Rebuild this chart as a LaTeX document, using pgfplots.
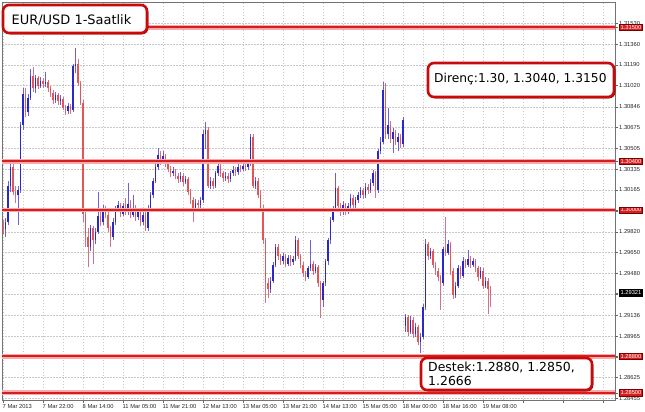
\documentclass[border=0pt]{standalone}
\usepackage{pgfplots}
\pgfplotsset{compat=1.18}
\usepackage{pgfplotstable}
\usepackage{fontspec}
\setmainfont{Liberation Sans}
\newfontfamily\boxfont{DejaVu Sans}

\definecolor{upbody}{RGB}{40,40,205}
\definecolor{upwick}{RGB}{115,95,210}
\definecolor{dnbody}{RGB}{228,85,85}
\definecolor{dnwick}{RGB}{210,115,140}
\definecolor{lvlred}{RGB}{215,30,30}
\definecolor{lvlhalo}{RGB}{250,170,170}
\definecolor{boxred}{RGB}{200,10,10}
\definecolor{boxshadow}{RGB}{120,0,0}
\definecolor{gridgray}{RGB}{200,200,200}

\newcommand{\tickfont}{\fontsize{5.8}{6}\selectfont}
\newcommand{\rl}[1]{{\setlength{\fboxsep}{0.9bp}\setlength{\fboxrule}{0.4bp}\fcolorbox{boxshadow}{lvlred}{\textcolor{white}{#1}}}}
\newcommand{\bl}[1]{{\setlength{\fboxsep}{0.9bp}\setlength{\fboxrule}{0.4bp}\fcolorbox{black}{black}{\textcolor{white}{#1}}}}

% hourly candles, bar index = hours from 7 Mar 06:00 (weekend skipped)
\pgfplotstableread{
x o h l c
1 1.2984 1.2993 1.2978 1.2990
2 1.2990 1.3024 1.2988 1.3020
3 1.3020 1.3042 1.3015 1.3035
6 1.3012 1.3020 1.2988 1.3016
7 1.3016 1.3072 1.3014 1.3070
8 1.3070 1.3100 1.3066 1.3095
10 1.3080 1.3095 1.3077 1.3092
11 1.3092 1.3116 1.3090 1.3110
13 1.3100 1.3111 1.3096 1.3108
15 1.3102 1.3109 1.3100 1.3106
17 1.3103 1.3113 1.3101 1.3105
21 1.3090 1.3097 1.3088 1.3094
23 1.3089 1.3094 1.3086 1.3091
26 1.3081 1.3088 1.3079 1.3085
28 1.3082 1.3120 1.3080 1.3118
29 1.3118 1.3133 1.3112 1.3120
35 1.2970 1.2988 1.2966 1.2985
37 1.2975 1.2985 1.2972 1.2982
38 1.2982 1.3015 1.2980 1.2995
40 1.2990 1.3004 1.2988 1.3000
44 1.2978 1.2993 1.2975 1.2990
45 1.2990 1.3003 1.2988 1.3000
46 1.3000 1.3007 1.2998 1.3004
48 1.2997 1.3006 1.2995 1.3003
50 1.2998 1.3022 1.2996 1.3005
52 1.2996 1.3012 1.2994 1.3002
54 1.2994 1.3002 1.2992 1.2999
56 1.2990 1.2999 1.2988 1.2996
58 1.2985 1.3004 1.2983 1.3002
59 1.3002 1.3015 1.3000 1.3012
60 1.3012 1.3026 1.3010 1.3024
61 1.3024 1.3038 1.3022 1.3035
62 1.3035 1.3051 1.3033 1.3045
64 1.3040 1.3048 1.3038 1.3044
68 1.3030 1.3035 1.3028 1.3032
71 1.3025 1.3031 1.3023 1.3028
73 1.3023 1.3028 1.3021 1.3025
77 1.3002 1.3009 1.3000 1.3006
79 1.3004 1.3011 1.3002 1.3008
80 1.3008 1.3066 1.3006 1.3062
81 1.3062 1.3072 1.3050 1.3066
83 1.3020 1.3027 1.3017 1.3024
85 1.3020 1.3032 1.3018 1.3030
86 1.3030 1.3040 1.3028 1.3036
89 1.3026 1.3031 1.3024 1.3028
91 1.3025 1.3032 1.3023 1.3030
92 1.3030 1.3036 1.3028 1.3033
94 1.3031 1.3038 1.3029 1.3035
96 1.3034 1.3039 1.3032 1.3036
98 1.3035 1.3041 1.3033 1.3038
99 1.3038 1.3062 1.3036 1.3060
101 1.3020 1.3027 1.3017 1.3024
107 1.2935 1.2945 1.2932 1.2942
108 1.2942 1.2957 1.2940 1.2955
109 1.2955 1.2972 1.2953 1.2970
112 1.2958 1.2965 1.2956 1.2962
114 1.2956 1.2963 1.2954 1.2961
116 1.2957 1.2962 1.2955 1.2960
117 1.2960 1.2979 1.2958 1.2975
122 1.2945 1.2954 1.2943 1.2952
123 1.2952 1.2975 1.2950 1.2956
125 1.2950 1.2956 1.2948 1.2953
128 1.2926 1.2942 1.2920 1.2940
129 1.2940 1.2960 1.2938 1.2958
130 1.2958 1.2977 1.2955 1.2975
131 1.2975 1.2994 1.2972 1.2992
132 1.2992 1.3003 1.2990 1.3000
133 1.3000 1.3030 1.2998 1.3018
136 1.2998 1.3007 1.2996 1.3004
138 1.2999 1.3006 1.2997 1.3003
139 1.3003 1.3013 1.3001 1.3010
141 1.3004 1.3011 1.3002 1.3008
142 1.3008 1.3015 1.3006 1.3012
143 1.3012 1.3019 1.3010 1.3016
145 1.3012 1.3022 1.3010 1.3019
147 1.3016 1.3025 1.3014 1.3022
148 1.3022 1.3033 1.3020 1.3030
150 1.3016 1.3050 1.3014 1.3048
151 1.3048 1.3060 1.3046 1.3056
152 1.3056 1.3105 1.3054 1.3098
154 1.3062 1.3084 1.3058 1.3070
156 1.3058 1.3067 1.3047 1.3064
158 1.3056 1.3063 1.3048 1.3060
160 1.3054 1.3076 1.3052 1.3074
161 1.2905 1.2915 1.2900 1.2912
163 1.2900 1.2913 1.2898 1.2910
165 1.2898 1.2907 1.2896 1.2904
167 1.2892 1.2899 1.2883 1.2896
168 1.2896 1.2923 1.2894 1.2920
169 1.2920 1.2976 1.2918 1.2972
171 1.2962 1.2969 1.2960 1.2966
176 1.2940 1.2970 1.2938 1.2968
178 1.2965 1.2975 1.2963 1.2972
181 1.2930 1.2941 1.2928 1.2938
182 1.2938 1.2955 1.2936 1.2952
184 1.2946 1.2961 1.2944 1.2958
186 1.2955 1.2967 1.2953 1.2960
188 1.2955 1.2961 1.2953 1.2958
191 1.2945 1.2953 1.2943 1.2950
193 1.2938 1.2945 1.2936 1.2942
}\upbars

\pgfplotstableread{
x o h l c
0 1.2986 1.2992 1.2980 1.2984
4 1.3035 1.3038 1.3012 1.3015
5 1.3015 1.3020 1.3006 1.3012
9 1.3095 1.3100 1.3076 1.3080
12 1.3110 1.3117 1.3097 1.3100
14 1.3108 1.3110 1.3099 1.3102
16 1.3106 1.3108 1.3100 1.3103
18 1.3105 1.3107 1.3097 1.3100
19 1.3100 1.3102 1.3093 1.3096
20 1.3096 1.3098 1.3087 1.3090
22 1.3094 1.3096 1.3086 1.3089
24 1.3091 1.3093 1.3082 1.3084
25 1.3084 1.3086 1.3078 1.3081
27 1.3085 1.3087 1.3079 1.3082
30 1.3120 1.3124 1.3102 1.3104
31 1.3104 1.3106 1.3086 1.3088
32 1.3088 1.3090 1.2990 1.2997
33 1.2997 1.3000 1.2970 1.2978
34 1.2978 1.2985 1.2953 1.2970
36 1.2985 1.2987 1.2956 1.2975
39 1.2995 1.2998 1.2987 1.2990
41 1.3000 1.3003 1.2993 1.2996
42 1.2996 1.2998 1.2982 1.2985
43 1.2985 1.2987 1.2970 1.2978
47 1.3004 1.3006 1.2994 1.2997
49 1.3003 1.3010 1.2996 1.2998
51 1.3005 1.3008 1.2993 1.2996
53 1.3002 1.3004 1.2991 1.2994
55 1.2999 1.3001 1.2987 1.2990
57 1.2996 1.2998 1.2983 1.2985
63 1.3045 1.3048 1.3037 1.3040
65 1.3044 1.3046 1.3035 1.3038
66 1.3038 1.3040 1.3031 1.3034
67 1.3034 1.3036 1.3027 1.3030
69 1.3032 1.3034 1.3025 1.3028
70 1.3028 1.3030 1.3022 1.3025
72 1.3028 1.3030 1.3020 1.3023
74 1.3025 1.3027 1.3012 1.3015
75 1.3015 1.3017 1.3005 1.3008
76 1.3008 1.3011 1.2990 1.3002
78 1.3006 1.3008 1.3000 1.3004
82 1.3066 1.3068 1.3018 1.3020
84 1.3024 1.3026 1.3017 1.3020
87 1.3036 1.3038 1.3027 1.3030
88 1.3030 1.3032 1.3023 1.3026
90 1.3028 1.3030 1.3022 1.3025
93 1.3033 1.3035 1.3028 1.3031
95 1.3035 1.3037 1.3031 1.3034
97 1.3036 1.3038 1.3032 1.3035
100 1.3060 1.3062 1.3018 1.3020
102 1.3024 1.3026 1.3010 1.3012
103 1.3012 1.3016 1.2999 1.3002
104 1.3002 1.3004 1.2972 1.2975
105 1.2975 1.2977 1.2924 1.2940
106 1.2940 1.2944 1.2928 1.2935
110 1.2970 1.2972 1.2959 1.2962
111 1.2962 1.2964 1.2955 1.2958
113 1.2962 1.2964 1.2953 1.2956
115 1.2961 1.2963 1.2954 1.2957
118 1.2975 1.2977 1.2960 1.2962
119 1.2962 1.2964 1.2952 1.2955
120 1.2955 1.2957 1.2945 1.2948
121 1.2948 1.2950 1.2942 1.2945
124 1.2956 1.2958 1.2947 1.2950
126 1.2953 1.2955 1.2937 1.2940
127 1.2940 1.2942 1.2911 1.2926
134 1.3018 1.3020 1.3000 1.3003
135 1.3003 1.3006 1.2995 1.2998
137 1.3004 1.3006 1.2996 1.2999
140 1.3010 1.3012 1.3001 1.3004
144 1.3016 1.3018 1.3009 1.3012
146 1.3019 1.3021 1.3013 1.3016
149 1.3030 1.3032 1.3010 1.3016
153 1.3098 1.3104 1.3058 1.3062
155 1.3070 1.3073 1.3055 1.3058
157 1.3064 1.3066 1.3053 1.3056
159 1.3060 1.3062 1.3051 1.3054
162 1.2912 1.2914 1.2897 1.2900
164 1.2910 1.2912 1.2895 1.2898
166 1.2904 1.2906 1.2889 1.2892
170 1.2972 1.2974 1.2959 1.2962
172 1.2966 1.2968 1.2952 1.2955
173 1.2955 1.2957 1.2947 1.2950
174 1.2950 1.2952 1.2942 1.2945
175 1.2945 1.2947 1.2918 1.2940
177 1.2968 1.2994 1.2962 1.2965
179 1.2972 1.2974 1.2947 1.2950
180 1.2950 1.2952 1.2927 1.2930
183 1.2952 1.2954 1.2943 1.2946
185 1.2958 1.2960 1.2952 1.2955
187 1.2960 1.2962 1.2952 1.2955
189 1.2958 1.2960 1.2949 1.2952
190 1.2952 1.2954 1.2942 1.2945
192 1.2950 1.2952 1.2935 1.2938
194 1.2942 1.2944 1.2915 1.2935
195 1.2935 1.2938 1.2920 1.2932
}\dnbars

\begin{document}
\begin{tikzpicture}
\path[use as bounding box] (0,0) rectangle (645bp,412bp);
\begin{axis}[
    at={(2bp,12bp)}, anchor=south west,
    scale only axis,
    width=613bp, height=398bp,
    xmin=-0.4, xmax=244.8,
    ymin=1.28441, ymax=1.31706,
    axis line style={black!55, line width=0.6bp},
    tick align=outside,
    major tick length=2.5bp,
    minor tick length=0pt,
    tick style={black!60, line width=0.4bp},
    xtick pos=left, ytick pos=right,
    yticklabel pos=right,
    xtick={0,16,...,240},
    minor x tick num=1,
    xticklabels={7 Mar 2013,7 Mar 22:00,8 Mar 14:00,11 Mar 05:00,11 Mar 21:00,12 Mar 13:00,13 Mar 05:00,13 Mar 21:00,14 Mar 13:00,15 Mar 05:00,18 Mar 00:00,18 Mar 16:00,19 Mar 08:00,{},{},{}},
    xticklabel style={font=\tickfont, anchor=north west, inner sep=0pt, yshift=-1.5bp, xshift=-0.5bp, text=black!85},
    ytick={1.31530,1.31360,1.31190,1.31020,1.30846,1.30675,1.30505,1.30335,1.30165,1.29990,1.29820,1.29650,1.29480,1.29310,1.29136,1.28965,1.28795,1.28625,1.28455},
    yticklabels={1.31530,1.31360,1.31190,1.31020,1.30846,1.30675,1.30505,1.30335,1.30165,{},1.29820,1.29650,1.29480,{},1.29136,1.28965,{},1.28625,1.28455},
    yticklabel style={font=\tickfont, anchor=west, inner sep=0pt, xshift=1.5bp, text=black!85},
    extra y ticks={1.31500,1.30400,1.30000,1.29321,1.28800,1.28500},
    extra y tick labels={\rl{1.31500},\rl{1.30400},\rl{1.30000},\bl{1.29321},\rl{1.28800},\rl{1.28500}},
    extra tick style={grid=none},
    grid=both,
    major grid style={gridgray, dash pattern=on 1.5bp off 1.5bp, line width=0.5bp},
    minor grid style={gridgray, dash pattern=on 1.5bp off 1.5bp, line width=0.5bp},
]
% wicks
\addplot[draw=none, mark=none, forget plot, error bars/.cd, y dir=plus, y explicit, error mark=none,
    error bar style={draw=upwick, line width=0.75bp}]
    table[x=x, y=l, y error plus expr=\thisrow{h}-\thisrow{l}] {\upbars};
\addplot[draw=none, mark=none, forget plot, error bars/.cd, y dir=plus, y explicit, error mark=none,
    error bar style={draw=dnwick, line width=0.75bp}]
    table[x=x, y=l, y error plus expr=\thisrow{h}-\thisrow{l}] {\dnbars};
% bodies
\addplot[draw=none, mark=none, forget plot, error bars/.cd, y dir=plus, y explicit, error mark=none,
    error bar style={draw=upbody, line width=1.9bp}]
    table[x=x, y=o, y error plus expr=\thisrow{c}-\thisrow{o}] {\upbars};
\addplot[draw=none, mark=none, forget plot, error bars/.cd, y dir=plus, y explicit, error mark=none,
    error bar style={draw=dnbody, line width=1.9bp}]
    table[x=x, y=c, y error plus expr=\thisrow{o}-\thisrow{c}] {\dnbars};
% support and resistance levels
\foreach \lv in {1.3150,1.3040,1.3000,1.2880,1.2850} {
  \addplot[lvlhalo, line width=4.8bp, forget plot] coordinates {(-0.4,\lv) (244.8,\lv)};
  \addplot[lvlred, line width=2.4bp, forget plot] coordinates {(-0.4,\lv) (244.8,\lv)};
}
\end{axis}

% annotation boxes
\fill[boxshadow, rounded corners=6bp] (4.3bp,377.7bp) rectangle (148.3bp,405.7bp);
\draw[boxred, fill=white, line width=2.6bp, rounded corners=6bp] (3bp,379bp) rectangle (147bp,407bp);
\node[anchor=base west, inner sep=0pt, font=\boxfont\fontsize{13}{15}\selectfont] at (11.5bp,387bp) {EUR/USD 1-Saatlik};

\fill[boxshadow, rounded corners=6bp] (429.3bp,313.7bp) rectangle (615.3bp,347.7bp);
\draw[boxred, fill=white, line width=2.6bp, rounded corners=6bp] (428bp,315bp) rectangle (614bp,349bp);
\node[anchor=base west, inner sep=0pt, font=\boxfont\fontsize{12.3}{14}\selectfont] at (434bp,329.5bp) {Direnç:1.30, 1.3040, 1.3150};

\fill[boxshadow, rounded corners=6bp] (422.3bp,20.7bp) rectangle (593.3bp,52.7bp);
\draw[boxred, fill=white, line width=2.6bp, rounded corners=6bp] (421bp,22bp) rectangle (592bp,54bp);
\node[anchor=base west, inner sep=0pt, font=\boxfont\fontsize{12.5}{14}\selectfont] at (428bp,40.3bp) {Destek:1.2880, 1.2850,};
\node[anchor=base west, inner sep=0pt, font=\boxfont\fontsize{12.5}{14}\selectfont] at (428bp,27bp) {1.2666};
\end{tikzpicture}
\end{document}
